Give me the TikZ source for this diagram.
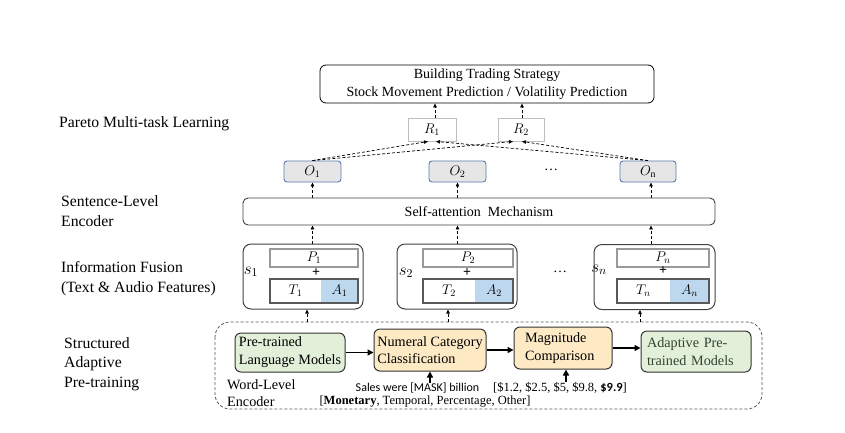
\RequirePackage{fix-cm}
\documentclass[tikz,border=0pt]{standalone}
\usepackage{fontspec}
\setmainfont{Liberation Serif}
\newfontfamily\calib{Carlito}
\usetikzlibrary{arrows.meta,calc}
\definecolor{ofill}{HTML}{E6E6E6}
\definecolor{oborder}{HTML}{5B7BB0}
\definecolor{ablue}{HTML}{BDD7EE}
\definecolor{gfill}{HTML}{E2EFD9}
\definecolor{yfill}{HTML}{FDE9C4}
\definecolor{boxline}{HTML}{404040}
\definecolor{adtext}{HTML}{334433}
\tikzset{
  dasharrow/.style={dash pattern=on 3pt off 2pt, line width=0.7pt, -{Triangle[length=4pt,width=3.5pt]}},
  solidarrow/.style={line width=1.8pt, -{Triangle[length=6pt,width=6pt]}},
  topbox/.style={draw=black, line width=0.8pt, rounded corners=6pt, fill=white, inner sep=0pt, align=center, font=\fontsize{14}{18}\selectfont},
  rbox/.style={draw=black!25, line width=0.9pt, fill=white, inner sep=0pt, minimum height=23pt, font=\fontsize{14}{17}\selectfont},
  obox/.style={draw=oborder, fill=ofill, line width=0.9pt, rounded corners=3pt, minimum height=21pt, inner sep=0pt, font=\fontsize{14}{17}\selectfont},
  sabox/.style={draw=boxline, line width=0.9pt, rounded corners=5pt, fill=white, inner sep=0pt, font=\fontsize{14}{17}\selectfont},
  fusebox/.style={draw=boxline, line width=1pt, rounded corners=8pt, minimum height=65pt, inner sep=0pt},
  pbox/.style={draw=black!40, line width=1.2pt, minimum height=18pt, inner sep=0pt, font=\fontsize{14}{17}\selectfont},
  tcell/.style={fill=white, minimum height=24pt, inner sep=0pt, font=\fontsize{14}{17}\selectfont},
  acell/.style={fill=ablue, minimum height=24pt, inner sep=0pt, font=\fontsize{14}{17}\selectfont},
  taframe/.style={draw=black!65, line width=1.5pt},
  lbl/.style={anchor=west, align=left, inner sep=0pt, font=\fontsize{15.7}{20}\selectfont},
  sublbl/.style={inner sep=0pt, font=\fontsize{17}{20}\selectfont},
  dotlbl/.style={inner sep=0pt, font=\fontsize{14}{17}\selectfont},
  region/.style={draw=black!65, dash pattern=on 3pt off 2pt, line width=0.8pt, rounded corners=15pt},
  greenbox/.style={draw=black!80, fill=gfill, line width=1pt, rounded corners=6pt, inner sep=0pt, align=left, font=\fontsize{14.2}{18}\selectfont},
  yellowbox/.style={draw=black!80, fill=yfill, line width=1pt, rounded corners=6pt, inner sep=0pt, align=left, font=\fontsize{14.2}{17.5}\selectfont},
  smalltxt/.style={inner sep=0pt, font=\fontsize{12.5}{15}\selectfont},
}
\begin{document}
\begin{tikzpicture}[x=1pt,y=-1pt]
\useasboundingbox (0,0) rectangle (845,432);

% left labels
\node[lbl] (l1) at (59,124) {Pareto Multi-task Learning};
\node[lbl] (l2) at (61,211) {Sentence-Level\\Encoder};
\node[lbl] (l3) at (61,279) {Information Fusion\\(Text \& Audio Features)};
\node[lbl, font=\fontsize{15.7}{19.5}\selectfont] (l4) at (64,364) {Structured\\Adaptive\\Pre-training};

% top
\node[topbox, minimum width=334pt, minimum height=38pt] (top) at (487,84) {Building Trading Strategy\\Stock Movement Prediction / Volatility Prediction};
\node[rbox, minimum width=48pt] (R1) at (432,129.5) {$R_1$};
\node[rbox, minimum width=46pt] (R2) at (521,129.5) {$R_2$};

\node[obox, minimum width=57pt] (O1) at (312.5,171.5) {$O_1$};
\node[obox, minimum width=57pt] (O2) at (457.5,171.5) {$O_2$};
\node[obox, minimum width=56pt] (On) at (648,171.5) {$O_{\mathrm{n}}$};
\node[dotlbl] (d1) at (551,170) {\dots};

\node[sabox, minimum width=472pt, minimum height=27pt] (SA) at (479,211.5) {Self-attention\ \ Mechanism};

% fusion boxes
\node[fusebox, minimum width=120pt] (S1) at (303,276.5) {};
\node[fusebox, minimum width=120pt] (S2) at (457,276.5) {};
\node[fusebox, minimum width=121pt] (Sn) at (654.5,277) {};

\node[pbox, minimum width=88pt] (P1) at (314,258) {$P_1$};
\node[tcell, minimum width=51pt] (T1) at (295.5,291) {$T_1$};
\node[acell, minimum width=37pt] (A1) at (339.5,291) {$A_1$};
\draw[taframe] (T1.north west) rectangle (A1.south east);

\node[pbox, minimum width=90pt] (P2) at (468,258) {$P_2$};
\node[tcell, minimum width=52pt] (T2) at (449,291) {$T_2$};
\node[acell, minimum width=38pt] (A2) at (494,291) {$A_2$};
\draw[taframe] (T2.north west) rectangle (A2.south east);

\node[pbox, minimum width=92pt] (Pn) at (663,258) {$P_n$};
\node[tcell, minimum width=53pt] (Tn) at (643.5,291) {$T_n$};
\node[acell, minimum width=39pt] (An) at (689.5,291) {$A_n$};
\draw[taframe] (Tn.north west) rectangle (An.south east);

\node[dotlbl, font=\bfseries\fontsize{14}{17}\selectfont] (pl1) at (316,273) {+};
\node[dotlbl, font=\bfseries\fontsize{14}{17}\selectfont] (pl2) at (467,273) {+};
\node[dotlbl, font=\bfseries\fontsize{14}{17}\selectfont] (pln) at (663,271) {+};
\node[sublbl] (s1) at (251,272) {$s_1$};
\node[sublbl] (s2) at (406,273) {$s_2$};
\node[sublbl] (sn) at (599,270) {$s_n$};
\node[dotlbl] (d2) at (560,272) {\dots};

% bottom region
\draw[region] (215,322) rectangle (762,409);
\coordinate (c1) at (307,322);
\coordinate (c2) at (448,322);
\coordinate (c3) at (640,322);

\node[greenbox, minimum width=110pt, minimum height=39pt] (LM) at (290,352.5) {Pre-trained\\Language Models};
\node[yellowbox, minimum width=112pt, minimum height=42pt] (NC) at (430,350) {Numeral Category\\Classification};
\node[yellowbox, minimum width=98pt, minimum height=42pt, text width=76pt] (MC) at (563,348) {Magnitude\\Comparison};
\node[greenbox, minimum width=110pt, minimum height=41pt, text width=98pt, text=adtext] (AP) at (696,351.5) {Adaptive Pre-\\trained Models};

\node[anchor=west, align=left, inner sep=0pt, font=\fontsize{14.2}{17}\selectfont] (wl) at (227,393.5) {Word-Level\\Encoder};
\node[inner sep=0pt, font=\calib\fontsize{12}{14}\selectfont] (sales) at (417.5,388) {Sales were [MASK] billion};
\node[smalltxt] (price) at (560,388) {[\$1.2, \$2.5, \$5, \$9.8, {\calib\bfseries \$9.9}]};
\node[smalltxt] (cats) at (425,402) {[\textbf{Monetary}, Temporal, Percentage, Other]};

% solid arrows
\draw[solidarrow] (LM.east) -- (NC.west |- LM.east);
\draw[solidarrow] (NC.east) -- (MC.west |- NC.east);
\draw[solidarrow] (MC.east) -- (AP.west |- MC.east);
\draw[solidarrow] (NC.south |- sales.north) -- (NC.south);
\draw[solidarrow] ($(MC.south |- price.north)+(3,0)$) -- ($(MC.south)+(3,0)$);

% dashed arrows
\draw[dasharrow] (c1) -- (c1 |- S1.south);
\draw[dasharrow] (c2) -- (c2 |- S2.south);
\draw[dasharrow] (c3) -- (c3 |- Sn.south);

\draw[dasharrow] (O1.south |- S1.north) -- (O1.south |- SA.south);
\draw[dasharrow] (O2.south |- S2.north) -- (O2.south |- SA.south);
\draw[dasharrow] ($(On.south |- Sn.north)+(3,0)$) -- ($(On.south |- SA.south)+(3,0)$);
\draw[dasharrow] (O1.south |- SA.north) -- (O1.south);
\draw[dasharrow] (O2.south |- SA.north) -- (O2.south);
\draw[dasharrow] ($(On.south |- SA.north)+(3,0)$) -- ($(On.south)+(3,0)$);

\draw[dasharrow] (O1.north) -- ($(R1.south)+(-4,0)$);
\draw[dasharrow] (O1.north) -- ($(R2.south)+(-8,0)$);
\draw[dasharrow] (On.north) -- ($(R1.south)+(4,0)$);
\draw[dasharrow] (On.north) -- ($(R2.south)+(1,0)$);

\draw[dasharrow] ($(R1.north)+(3,0)$) -- ($(R1.north |- top.south)+(3,0)$);
\draw[dasharrow] ($(R2.north)+(1,0)$) -- ($(R2.north |- top.south)+(1,0)$);
\end{tikzpicture}
\end{document}
